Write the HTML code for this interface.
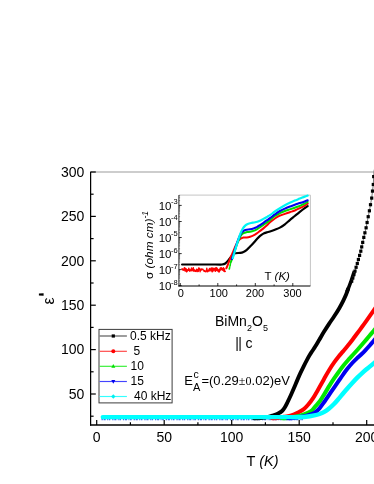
<!DOCTYPE html>
<html><head><meta charset="utf-8"><title>chart</title>
<style>
html,body{margin:0;padding:0;background:#fff;}
body{width:374px;height:484px;position:relative;overflow:hidden;font-family:"Liberation Sans",sans-serif;color:#000;}
.t{position:absolute;white-space:nowrap;line-height:1;}
#txt{position:absolute;left:0;top:0;width:374px;height:484px;will-change:transform;transform:translateZ(0);}
.yl{font-size:14px;width:40px;text-align:right;left:44.3px;}
.xl{font-size:14px;width:40px;text-align:center;}
.il{font-size:9.5px;}
.ser{font-family:"Liberation Serif",serif;}
</style></head><body>
<svg width="374" height="484" viewBox="0 0 374 484" style="position:absolute;left:0;top:0">
<line x1="91" y1="172.0" x2="374" y2="172.0" stroke="#bcbcbc" stroke-width="1.6"/>
<line x1="101.5" y1="418.5" x2="304" y2="418.5" stroke="#3a62f2" stroke-width="3.6" stroke-dasharray="1.3 0.8 2.1 1.4 0.9 0.7 1.6 1.9"/>
<path d="M254.00,418.20 C255.17,418.18 258.45,418.37 261.00,418.10 C263.55,417.83 267.25,417.05 269.30,416.60 C271.35,416.15 271.83,415.90 273.30,415.40 C274.77,414.90 276.63,414.33 278.10,413.60 C279.57,412.87 280.93,412.10 282.09,411.00 C283.25,409.90 284.09,408.62 285.06,407.00 C286.04,405.38 286.94,403.35 287.94,401.30 C288.94,399.25 289.99,397.00 291.04,394.70 C292.08,392.40 293.14,389.97 294.20,387.50 C295.26,385.03 296.33,382.37 297.40,379.90 C298.47,377.43 299.53,374.99 300.60,372.68 C301.67,370.36 302.73,368.17 303.80,366.02 C304.87,363.88 305.97,361.72 307.00,359.80 C308.03,357.88 309.09,356.03 310.00,354.52 C310.91,353.02 311.60,352.08 312.48,350.75 C313.35,349.42 314.09,348.39 315.23,346.55 C316.36,344.71 317.82,342.22 319.30,339.73 C320.78,337.23 322.48,334.25 324.10,331.60 C325.72,328.95 327.36,326.40 329.04,323.85 C330.72,321.30 332.53,318.85 334.21,316.27 C335.88,313.70 337.62,311.00 339.12,308.42 C340.61,305.85 342.02,303.15 343.20,300.80 C344.38,298.45 345.37,296.30 346.20,294.30 C347.03,292.30 347.87,289.72 348.20,288.80" fill="none" stroke="#000" stroke-width="3.9" stroke-linejoin="round" stroke-linecap="round" />
<polyline points="346.8,292.0 348.2,288.8 350.7,282.2 352.9,275.6 354.4,271.1" fill="none" stroke="#000" stroke-width="3.5"/>
<polyline points="354.4,271.1 351.7,281.2 352.8,278.0 353.9,274.6 355.0,271.1 356.1,267.3 357.3,263.5 358.4,259.5 359.6,255.4 360.8,251.2 361.7,246.9 362.7,242.4 363.8,237.4 364.9,232.8 366.1,227.8 367.1,222.5 368.2,216.7 369.4,210.8 370.5,204.7 371.7,198.1 372.5,191.1 373.3,184.5 373.7,176.6 374.2,170.0" fill="none" stroke="#555" stroke-width="0.8" stroke-linejoin="round" stroke-linecap="round" />
<path d="M272.00,418.20 C273.00,418.18 276.00,418.33 278.00,418.10 C280.00,417.87 281.78,417.25 284.00,416.80 C286.22,416.35 288.97,416.10 291.30,415.40 C293.63,414.70 295.95,413.60 297.98,412.60 C300.02,411.60 301.78,410.75 303.50,409.40 C305.22,408.05 306.70,406.38 308.30,404.50 C309.90,402.62 311.50,400.53 313.10,398.10 C314.70,395.67 316.42,392.50 317.93,389.90 C319.43,387.30 320.85,384.77 322.12,382.50 C323.40,380.23 324.32,378.47 325.55,376.30 C326.78,374.13 328.09,371.79 329.52,369.48 C330.96,367.16 332.66,364.57 334.19,362.42 C335.71,360.27 337.20,358.42 338.67,356.57 C340.15,354.73 341.56,353.15 343.06,351.35 C344.57,349.55 346.13,347.75 347.70,345.80 C349.27,343.85 350.90,341.76 352.50,339.68 C354.10,337.59 355.70,335.45 357.30,333.30 C358.90,331.15 360.53,328.94 362.10,326.77 C363.67,324.61 365.29,322.32 366.73,320.30 C368.16,318.28 369.55,316.31 370.73,314.65 C371.90,312.99 372.87,311.60 373.75,310.32 C374.63,309.05 375.62,307.55 376.00,307.00" fill="none" stroke="#f00" stroke-width="4.0" stroke-linejoin="round" stroke-linecap="round" />
<path d="M282.00,418.20 C283.00,418.18 286.00,418.33 288.00,418.10 C290.00,417.87 291.85,417.25 294.00,416.80 C296.15,416.35 298.51,416.10 300.90,415.40 C303.29,414.70 306.48,413.47 308.36,412.60 C310.24,411.73 311.06,411.22 312.20,410.20 C313.34,409.18 313.90,408.03 315.20,406.50 C316.50,404.97 318.40,403.19 320.00,401.00 C321.60,398.81 323.20,395.95 324.80,393.35 C326.40,390.75 328.01,387.94 329.62,385.38 C331.24,382.81 332.90,380.29 334.47,377.97 C336.04,375.66 337.57,373.52 339.05,371.48 C340.52,369.43 341.85,367.54 343.31,365.70 C344.76,363.86 346.22,362.19 347.75,360.45 C349.29,358.71 350.91,357.02 352.50,355.27 C354.09,353.53 355.70,351.76 357.30,349.98 C358.90,348.19 360.50,346.40 362.10,344.55 C363.70,342.70 365.42,340.68 366.93,338.90 C368.43,337.12 369.95,335.26 371.12,333.85 C372.30,332.44 373.14,331.43 373.95,330.45 C374.76,329.47 375.66,328.41 376.00,328.00" fill="none" stroke="#00e800" stroke-width="4.0" stroke-linejoin="round" stroke-linecap="round" />
<path d="M288.00,418.20 C289.00,418.18 292.00,418.33 294.00,418.10 C296.00,417.87 297.75,417.25 300.00,416.80 C302.25,416.35 305.07,416.10 307.52,415.40 C309.97,414.70 312.70,413.78 314.70,412.60 C316.70,411.42 317.85,410.15 319.50,408.30 C321.15,406.45 322.95,403.81 324.60,401.50 C326.25,399.19 327.81,396.78 329.43,394.43 C331.04,392.07 332.69,389.65 334.27,387.35 C335.85,385.05 337.39,382.79 338.89,380.62 C340.38,378.46 341.76,376.40 343.24,374.35 C344.71,372.30 346.20,370.28 347.75,368.35 C349.29,366.42 350.97,364.45 352.50,362.77 C354.03,361.10 355.50,359.67 356.90,358.32 C358.30,356.98 359.50,356.01 360.90,354.68 C362.30,353.34 363.82,351.88 365.32,350.30 C366.83,348.73 368.55,346.78 369.93,345.23 C371.30,343.67 372.54,342.15 373.55,340.95 C374.56,339.75 375.59,338.49 376.00,338.00" fill="none" stroke="#0000f0" stroke-width="4.0" stroke-linejoin="round" stroke-linecap="round" />
<line x1="102.8" y1="417.1" x2="300" y2="417.1" stroke="#00ffff" stroke-width="4.4" stroke-linecap="round"/>
<path d="M292.00,417.10 C293.17,417.09 296.67,417.10 299.00,417.05 C301.33,417.00 303.46,417.08 306.00,416.80 C308.54,416.52 311.98,415.87 314.23,415.40 C316.48,414.93 317.82,414.60 319.50,414.00 C321.18,413.40 322.70,412.72 324.30,411.80 C325.90,410.88 327.48,409.80 329.10,408.50 C330.72,407.20 332.38,405.65 334.00,404.00 C335.62,402.35 337.26,400.39 338.80,398.60 C340.34,396.81 341.76,395.02 343.26,393.25 C344.75,391.48 346.25,389.73 347.79,387.98 C349.33,386.22 350.92,384.45 352.50,382.73 C354.08,381.00 355.70,379.24 357.30,377.62 C358.90,376.01 360.40,374.55 362.10,373.02 C363.80,371.50 365.70,369.93 367.48,368.45 C369.25,366.97 371.30,365.28 372.73,364.12 C374.15,362.97 375.45,361.94 376.00,361.50" fill="none" stroke="#00ffff" stroke-width="4.4" stroke-linejoin="round" stroke-linecap="round" />
<rect x="372.1" y="175.0" width="3.2" height="3.2" fill="#000"/>
<rect x="371.7" y="182.9" width="3.2" height="3.2" fill="#000"/>
<rect x="370.9" y="189.5" width="3.2" height="3.2" fill="#000"/>
<rect x="370.1" y="196.5" width="3.2" height="3.2" fill="#000"/>
<rect x="368.9" y="203.1" width="3.2" height="3.2" fill="#000"/>
<rect x="367.8" y="209.2" width="3.2" height="3.2" fill="#000"/>
<rect x="366.6" y="215.1" width="3.2" height="3.2" fill="#000"/>
<rect x="365.5" y="220.9" width="3.2" height="3.2" fill="#000"/>
<rect x="364.5" y="226.2" width="3.2" height="3.2" fill="#000"/>
<rect x="363.3" y="231.2" width="3.2" height="3.2" fill="#000"/>
<rect x="362.2" y="235.8" width="3.2" height="3.2" fill="#000"/>
<rect x="361.1" y="240.8" width="3.2" height="3.2" fill="#000"/>
<rect x="360.1" y="245.3" width="3.2" height="3.2" fill="#000"/>
<rect x="359.2" y="249.6" width="3.2" height="3.2" fill="#000"/>
<rect x="358.0" y="253.8" width="3.2" height="3.2" fill="#000"/>
<rect x="356.8" y="257.9" width="3.2" height="3.2" fill="#000"/>
<rect x="355.7" y="261.9" width="3.2" height="3.2" fill="#000"/>
<rect x="354.5" y="265.7" width="3.2" height="3.2" fill="#000"/>
<rect x="353.4" y="269.5" width="3.2" height="3.2" fill="#000"/>
<rect x="352.3" y="273.0" width="3.2" height="3.2" fill="#000"/>
<rect x="351.2" y="276.4" width="3.2" height="3.2" fill="#000"/>
<rect x="350.1" y="279.6" width="3.2" height="3.2" fill="#000"/>
<line x1="90.6" y1="171.7" x2="90.6" y2="425.6" stroke="#000" stroke-width="1.25"/>
<line x1="90" y1="425" x2="374" y2="425" stroke="#000" stroke-width="1.3"/>
<line x1="90.6" y1="394.0" x2="95.8" y2="394.0" stroke="#000" stroke-width="1.2"/>
<line x1="90.6" y1="349.6" x2="95.8" y2="349.6" stroke="#000" stroke-width="1.2"/>
<line x1="90.6" y1="305.2" x2="95.8" y2="305.2" stroke="#000" stroke-width="1.2"/>
<line x1="90.6" y1="260.8" x2="95.8" y2="260.8" stroke="#000" stroke-width="1.2"/>
<line x1="90.6" y1="216.4" x2="95.8" y2="216.4" stroke="#000" stroke-width="1.2"/>
<line x1="90.6" y1="172.0" x2="95.8" y2="172.0" stroke="#000" stroke-width="1.2"/>
<line x1="90.6" y1="416.2" x2="93.6" y2="416.2" stroke="#000" stroke-width="1.2"/>
<line x1="90.6" y1="371.8" x2="93.6" y2="371.8" stroke="#000" stroke-width="1.2"/>
<line x1="90.6" y1="327.4" x2="93.6" y2="327.4" stroke="#000" stroke-width="1.2"/>
<line x1="90.6" y1="283.0" x2="93.6" y2="283.0" stroke="#000" stroke-width="1.2"/>
<line x1="90.6" y1="238.6" x2="93.6" y2="238.6" stroke="#000" stroke-width="1.2"/>
<line x1="90.6" y1="194.2" x2="93.6" y2="194.2" stroke="#000" stroke-width="1.2"/>
<line x1="96.7" y1="425" x2="96.7" y2="420" stroke="#000" stroke-width="1.2"/>
<line x1="164.2" y1="425" x2="164.2" y2="420" stroke="#000" stroke-width="1.2"/>
<line x1="231.7" y1="425" x2="231.7" y2="420" stroke="#000" stroke-width="1.2"/>
<line x1="299.2" y1="425" x2="299.2" y2="420" stroke="#000" stroke-width="1.2"/>
<line x1="366.7" y1="425" x2="366.7" y2="420" stroke="#000" stroke-width="1.2"/>
<line x1="130.4" y1="425" x2="130.4" y2="422.2" stroke="#000" stroke-width="1.2"/>
<line x1="197.9" y1="425" x2="197.9" y2="422.2" stroke="#000" stroke-width="1.2"/>
<line x1="265.4" y1="425" x2="265.4" y2="422.2" stroke="#000" stroke-width="1.2"/>
<line x1="333.0" y1="425" x2="333.0" y2="422.2" stroke="#000" stroke-width="1.2"/>
<rect x="178.9" y="195.1" width="131.5" height="90.9" fill="#fff" stroke="none"/>
<polyline points="178.9,195.1 310.4,195.1 310.4,286.0" fill="none" stroke="#c4c4c4" stroke-width="1"/>
<path d="M182.10,264.50 C187.58,264.50 208.35,264.50 215.00,264.50 C221.65,264.50 220.28,264.67 222.00,264.50 C223.72,264.33 224.20,264.27 225.30,263.50 C226.40,262.73 227.50,261.20 228.60,259.90 C229.70,258.60 230.80,256.80 231.90,255.70 C233.00,254.60 233.82,253.77 235.20,253.30 C236.58,252.83 238.82,253.13 240.20,252.90 C241.58,252.67 242.40,252.40 243.50,251.90 C244.60,251.40 245.70,250.78 246.80,249.90 C247.90,249.02 248.98,247.75 250.10,246.60 C251.22,245.45 252.38,244.23 253.50,243.00 C254.62,241.77 255.70,240.38 256.80,239.20 C257.90,238.02 259.00,236.83 260.10,235.90 C261.20,234.97 262.30,234.18 263.40,233.60 C264.50,233.02 265.60,232.75 266.70,232.40 C267.80,232.05 268.63,231.95 270.00,231.50 C271.37,231.05 273.25,230.35 274.90,229.70 C276.55,229.05 278.23,228.50 279.90,227.60 C281.57,226.70 283.25,225.55 284.90,224.30 C286.55,223.05 288.15,221.48 289.80,220.10 C291.45,218.72 293.13,217.37 294.80,216.00 C296.47,214.63 298.15,213.22 299.80,211.90 C301.45,210.58 303.38,209.07 304.70,208.10 C306.02,207.13 307.20,206.43 307.70,206.10" fill="none" stroke="#000" stroke-width="2.2" stroke-linejoin="round" stroke-linecap="round" />
<polyline points="182.1,268.6 182.5,269.9 183.0,269.2 183.4,270.1 183.9,270.2 184.3,267.9 184.8,267.7 185.2,271.1 185.7,268.7 186.1,268.6 186.6,271.8 187.0,269.6 187.5,271.1 187.9,269.6 188.4,270.3 188.8,268.2 189.3,270.3 189.7,271.2 190.2,269.8 190.6,270.7 191.1,270.4 191.5,267.9 192.0,270.8 192.4,270.1 192.9,268.9 193.3,267.7 193.8,271.2 194.2,269.6 194.7,270.6 195.1,271.3 195.6,270.6 196.0,271.5 196.5,269.3 196.9,271.0 197.4,269.5 197.8,271.5 198.3,271.3 198.7,268.0 199.2,268.2 199.6,268.5 200.1,271.7 200.5,269.4 201.0,270.2 201.4,268.9 201.9,269.7 202.3,269.2 202.8,269.1 203.2,270.1 203.7,270.1 204.1,271.4 204.6,270.5 205.0,271.5 205.5,271.2 205.9,271.8 206.4,270.4 206.8,268.3 207.3,271.2 207.7,271.7 208.2,271.4 208.6,270.0 209.1,270.6 209.5,268.5 210.0,271.1 210.4,270.0 210.9,268.8 211.3,267.9 211.8,271.2 212.2,271.8 212.7,268.0 213.1,271.0 213.6,269.3 214.0,268.2 214.5,268.8 214.9,270.8 215.4,271.3 215.8,267.8 216.3,270.2 216.7,267.8 217.2,270.6 217.6,269.0 218.1,271.3 218.5,271.7 219.0,269.7 219.4,271.8 219.9,268.9 220.3,267.9 220.8,270.1 221.2,267.7 221.7,268.4 222.1,269.3 222.6,270.2 223.0,268.3 223.5,267.8 223.9,271.2 224.4,268.9 224.8,271.6 225.3,271.4" fill="none" stroke="#f00" stroke-width="1.4" stroke-linejoin="round" stroke-linecap="round" />
<path d="M226.30,268.30 C226.55,267.72 227.13,266.48 227.80,264.80 C228.47,263.12 229.47,260.27 230.30,258.20 C231.13,256.13 231.98,254.33 232.80,252.40 C233.62,250.47 234.38,248.38 235.20,246.60 C236.02,244.82 236.87,242.98 237.70,241.70 C238.53,240.42 239.23,239.60 240.20,238.90 C241.17,238.20 242.40,237.75 243.50,237.50 C244.60,237.25 245.70,237.53 246.80,237.40 C247.90,237.27 248.98,237.03 250.10,236.70 C251.22,236.37 252.38,235.95 253.50,235.40 C254.62,234.85 255.70,234.15 256.80,233.40 C257.90,232.65 259.00,231.73 260.10,230.90 C261.20,230.07 262.30,229.28 263.40,228.40 C264.50,227.52 265.60,226.62 266.70,225.60 C267.80,224.58 268.63,223.48 270.00,222.30 C271.37,221.12 273.25,219.60 274.90,218.50 C276.55,217.40 278.23,216.47 279.90,215.70 C281.57,214.93 283.25,214.48 284.90,213.90 C286.55,213.32 288.15,212.77 289.80,212.20 C291.45,211.63 293.13,211.17 294.80,210.50 C296.47,209.83 298.15,209.02 299.80,208.20 C301.45,207.38 303.38,206.37 304.70,205.60 C306.02,204.83 307.20,203.93 307.70,203.60" fill="none" stroke="#f00" stroke-width="2.0" stroke-linejoin="round" stroke-linecap="round" />
<polyline points="229.3,269.0 230.9,262.0" fill="none" stroke="#00e000" stroke-width="1.6" stroke-linejoin="round" stroke-linecap="round" stroke-dasharray="1.6 1.4"/>
<path d="M231.10,261.50 C231.52,260.25 232.77,256.48 233.60,254.00 C234.43,251.52 235.27,248.93 236.10,246.60 C236.93,244.27 237.78,241.87 238.60,240.00 C239.42,238.13 240.18,236.55 241.00,235.40 C241.82,234.25 242.53,233.65 243.50,233.10 C244.47,232.55 245.70,232.33 246.80,232.10 C247.90,231.87 248.98,231.90 250.10,231.70 C251.22,231.50 252.38,231.30 253.50,230.90 C254.62,230.50 255.70,229.93 256.80,229.30 C257.90,228.67 259.00,227.85 260.10,227.10 C261.20,226.35 262.30,225.55 263.40,224.80 C264.50,224.05 265.60,223.38 266.70,222.60 C267.80,221.82 268.63,221.20 270.00,220.10 C271.37,219.00 273.25,217.15 274.90,216.00 C276.55,214.85 278.23,214.03 279.90,213.20 C281.57,212.37 283.25,211.63 284.90,211.00 C286.55,210.37 288.15,209.95 289.80,209.40 C291.45,208.85 293.13,208.28 294.80,207.70 C296.47,207.12 298.15,206.58 299.80,205.90 C301.45,205.22 303.38,204.27 304.70,203.60 C306.02,202.93 307.20,202.18 307.70,201.90" fill="none" stroke="#00dc00" stroke-width="2.0" stroke-linejoin="round" stroke-linecap="round" />
<path d="M231.90,259.10 C232.32,257.83 233.57,254.13 234.40,251.50 C235.23,248.87 236.07,245.77 236.90,243.30 C237.73,240.83 238.57,238.55 239.40,236.70 C240.23,234.85 241.07,233.25 241.90,232.20 C242.73,231.15 243.58,230.82 244.40,230.40 C245.22,229.98 245.85,229.88 246.80,229.70 C247.75,229.52 248.98,229.52 250.10,229.30 C251.22,229.08 252.38,228.77 253.50,228.40 C254.62,228.03 255.70,227.65 256.80,227.10 C257.90,226.55 259.00,225.82 260.10,225.10 C261.20,224.38 262.30,223.58 263.40,222.80 C264.50,222.02 265.60,221.17 266.70,220.40 C267.80,219.63 268.63,219.20 270.00,218.20 C271.37,217.20 273.25,215.60 274.90,214.40 C276.55,213.20 278.23,211.97 279.90,211.00 C281.57,210.03 283.25,209.33 284.90,208.60 C286.55,207.87 288.15,207.25 289.80,206.60 C291.45,205.95 293.13,205.28 294.80,204.70 C296.47,204.12 298.15,203.65 299.80,203.10 C301.45,202.55 303.38,201.87 304.70,201.40 C306.02,200.93 307.20,200.48 307.70,200.30" fill="none" stroke="#0000f0" stroke-width="2.1" stroke-linejoin="round" stroke-linecap="round" />
<path d="M232.80,258.20 C233.20,256.82 234.38,252.65 235.20,249.90 C236.02,247.15 236.87,244.32 237.70,241.70 C238.53,239.08 239.37,236.35 240.20,234.20 C241.03,232.05 241.87,230.23 242.70,228.80 C243.53,227.37 244.37,226.40 245.20,225.60 C246.03,224.80 246.73,224.43 247.70,224.00 C248.67,223.57 249.77,223.28 251.00,223.00 C252.23,222.72 253.72,222.63 255.10,222.30 C256.48,221.97 257.92,221.57 259.30,221.00 C260.68,220.43 262.03,219.63 263.40,218.90 C264.77,218.17 266.40,217.22 267.50,216.60 C268.60,215.98 268.77,216.05 270.00,215.20 C271.23,214.35 273.25,212.67 274.90,211.50 C276.55,210.33 278.23,209.25 279.90,208.20 C281.57,207.15 283.25,206.10 284.90,205.20 C286.55,204.30 288.15,203.57 289.80,202.80 C291.45,202.03 293.13,201.30 294.80,200.60 C296.47,199.90 298.15,199.27 299.80,198.60 C301.45,197.93 303.38,197.10 304.70,196.60 C306.02,196.10 307.20,195.77 307.70,195.60" fill="none" stroke="#00f4f4" stroke-width="2.2" stroke-linejoin="round" stroke-linecap="round" />
<line x1="178.9" y1="195.1" x2="178.9" y2="286.5" stroke="#000" stroke-width="0.85"/>
<line x1="178.4" y1="286.0" x2="310.4" y2="286.0" stroke="#000" stroke-width="1"/>
<line x1="178.9" y1="285.7" x2="181.7" y2="285.7" stroke="#000" stroke-width="0.8"/>
<line x1="178.9" y1="280.9" x2="180.1" y2="280.9" stroke="#000" stroke-width="0.4"/>
<line x1="178.9" y1="278.0" x2="180.1" y2="278.0" stroke="#000" stroke-width="0.4"/>
<line x1="178.9" y1="276.0" x2="180.1" y2="276.0" stroke="#000" stroke-width="0.4"/>
<line x1="178.9" y1="274.5" x2="180.1" y2="274.5" stroke="#000" stroke-width="0.4"/>
<line x1="178.9" y1="273.2" x2="180.1" y2="273.2" stroke="#000" stroke-width="0.4"/>
<line x1="178.9" y1="272.1" x2="180.1" y2="272.1" stroke="#000" stroke-width="0.4"/>
<line x1="178.9" y1="271.2" x2="180.1" y2="271.2" stroke="#000" stroke-width="0.4"/>
<line x1="178.9" y1="270.4" x2="180.1" y2="270.4" stroke="#000" stroke-width="0.4"/>
<line x1="178.9" y1="269.6" x2="181.7" y2="269.6" stroke="#000" stroke-width="0.8"/>
<line x1="178.9" y1="264.8" x2="180.1" y2="264.8" stroke="#000" stroke-width="0.4"/>
<line x1="178.9" y1="262.0" x2="180.1" y2="262.0" stroke="#000" stroke-width="0.4"/>
<line x1="178.9" y1="260.0" x2="180.1" y2="260.0" stroke="#000" stroke-width="0.4"/>
<line x1="178.9" y1="258.4" x2="180.1" y2="258.4" stroke="#000" stroke-width="0.4"/>
<line x1="178.9" y1="257.2" x2="180.1" y2="257.2" stroke="#000" stroke-width="0.4"/>
<line x1="178.9" y1="256.1" x2="180.1" y2="256.1" stroke="#000" stroke-width="0.4"/>
<line x1="178.9" y1="255.2" x2="180.1" y2="255.2" stroke="#000" stroke-width="0.4"/>
<line x1="178.9" y1="254.3" x2="180.1" y2="254.3" stroke="#000" stroke-width="0.4"/>
<line x1="178.9" y1="253.6" x2="181.7" y2="253.6" stroke="#000" stroke-width="0.8"/>
<line x1="178.9" y1="248.8" x2="180.1" y2="248.8" stroke="#000" stroke-width="0.4"/>
<line x1="178.9" y1="245.9" x2="180.1" y2="245.9" stroke="#000" stroke-width="0.4"/>
<line x1="178.9" y1="243.9" x2="180.1" y2="243.9" stroke="#000" stroke-width="0.4"/>
<line x1="178.9" y1="242.4" x2="180.1" y2="242.4" stroke="#000" stroke-width="0.4"/>
<line x1="178.9" y1="241.1" x2="180.1" y2="241.1" stroke="#000" stroke-width="0.4"/>
<line x1="178.9" y1="240.0" x2="180.1" y2="240.0" stroke="#000" stroke-width="0.4"/>
<line x1="178.9" y1="239.1" x2="180.1" y2="239.1" stroke="#000" stroke-width="0.4"/>
<line x1="178.9" y1="238.3" x2="180.1" y2="238.3" stroke="#000" stroke-width="0.4"/>
<line x1="178.9" y1="237.5" x2="181.7" y2="237.5" stroke="#000" stroke-width="0.8"/>
<line x1="178.9" y1="232.7" x2="180.1" y2="232.7" stroke="#000" stroke-width="0.4"/>
<line x1="178.9" y1="229.9" x2="180.1" y2="229.9" stroke="#000" stroke-width="0.4"/>
<line x1="178.9" y1="227.9" x2="180.1" y2="227.9" stroke="#000" stroke-width="0.4"/>
<line x1="178.9" y1="226.3" x2="180.1" y2="226.3" stroke="#000" stroke-width="0.4"/>
<line x1="178.9" y1="225.1" x2="180.1" y2="225.1" stroke="#000" stroke-width="0.4"/>
<line x1="178.9" y1="224.0" x2="180.1" y2="224.0" stroke="#000" stroke-width="0.4"/>
<line x1="178.9" y1="223.1" x2="180.1" y2="223.1" stroke="#000" stroke-width="0.4"/>
<line x1="178.9" y1="222.2" x2="180.1" y2="222.2" stroke="#000" stroke-width="0.4"/>
<line x1="178.9" y1="221.5" x2="181.7" y2="221.5" stroke="#000" stroke-width="0.8"/>
<line x1="178.9" y1="216.7" x2="180.1" y2="216.7" stroke="#000" stroke-width="0.4"/>
<line x1="178.9" y1="213.8" x2="180.1" y2="213.8" stroke="#000" stroke-width="0.4"/>
<line x1="178.9" y1="211.8" x2="180.1" y2="211.8" stroke="#000" stroke-width="0.4"/>
<line x1="178.9" y1="210.3" x2="180.1" y2="210.3" stroke="#000" stroke-width="0.4"/>
<line x1="178.9" y1="209.0" x2="180.1" y2="209.0" stroke="#000" stroke-width="0.4"/>
<line x1="178.9" y1="207.9" x2="180.1" y2="207.9" stroke="#000" stroke-width="0.4"/>
<line x1="178.9" y1="207.0" x2="180.1" y2="207.0" stroke="#000" stroke-width="0.4"/>
<line x1="178.9" y1="206.2" x2="180.1" y2="206.2" stroke="#000" stroke-width="0.4"/>
<line x1="178.9" y1="205.4" x2="181.7" y2="205.4" stroke="#000" stroke-width="0.8"/>
<line x1="178.9" y1="200.6" x2="180.1" y2="200.6" stroke="#000" stroke-width="0.4"/>
<line x1="178.9" y1="197.8" x2="180.1" y2="197.8" stroke="#000" stroke-width="0.4"/>
<line x1="178.9" y1="195.8" x2="180.1" y2="195.8" stroke="#000" stroke-width="0.4"/>
<line x1="180.3" y1="286.0" x2="180.3" y2="283.0" stroke="#000" stroke-width="0.8"/>
<line x1="217.8" y1="286.0" x2="217.8" y2="283.0" stroke="#000" stroke-width="0.8"/>
<line x1="255.3" y1="286.0" x2="255.3" y2="283.0" stroke="#000" stroke-width="0.8"/>
<line x1="292.8" y1="286.0" x2="292.8" y2="283.0" stroke="#000" stroke-width="0.8"/>
<line x1="199.1" y1="286.0" x2="199.1" y2="284.4" stroke="#000" stroke-width="0.8"/>
<line x1="236.6" y1="286.0" x2="236.6" y2="284.4" stroke="#000" stroke-width="0.8"/>
<line x1="274.1" y1="286.0" x2="274.1" y2="284.4" stroke="#000" stroke-width="0.8"/>
<path d="M38.9,293.5 L43.6,293.2 L43.6,295.8 L38.9,295.5 Z" fill="#000"/>
<rect x="99.0" y="329.4" width="73.1" height="73.5" fill="#fff" stroke="#3c3c3c" stroke-width="1"/>
<line x1="99.6" y1="336.0" x2="126.9" y2="336.0" stroke="#555" stroke-width="1.15"/>
<rect x="111.7" y="334.4" width="3.2" height="3.2" fill="#000"/>
<line x1="99.6" y1="351.3" x2="126.9" y2="351.3" stroke="#f44" stroke-width="1.15"/>
<circle cx="113.3" cy="351.3" r="2" fill="#f00"/>
<line x1="99.6" y1="366.3" x2="126.9" y2="366.3" stroke="#3e3" stroke-width="1.15"/>
<polygon points="113.3,364.1 111.3,367.8 115.3,367.8" fill="#00e000"/>
<line x1="99.6" y1="381.5" x2="126.9" y2="381.5" stroke="#44f" stroke-width="1.15"/>
<polygon points="113.3,383.7 111.3,380.0 115.3,380.0" fill="#0000f0"/>
<line x1="99.6" y1="396.5" x2="126.9" y2="396.5" stroke="#3ff" stroke-width="1.15"/>
<polygon points="113.3,394.3 115.5,396.5 113.3,398.7 111.1,396.5" fill="#00f0f0"/>
</svg>
<div id="txt">
<div class="t yl" style="top:386.7px">50</div>
<div class="t yl" style="top:342.3px">100</div>
<div class="t yl" style="top:297.9px">150</div>
<div class="t yl" style="top:253.5px">200</div>
<div class="t yl" style="top:209.1px">250</div>
<div class="t yl" style="top:164.7px">300</div>
<div class="t xl" style="left:76.7px;top:430px">0</div>
<div class="t xl" style="left:144.2px;top:430px">50</div>
<div class="t xl" style="left:211.7px;top:430px">100</div>
<div class="t xl" style="left:279.2px;top:430px">150</div>
<div class="t xl" style="left:346.7px;top:430px">200</div>
<div class="t" style="left:246.5px;top:453.5px;font-size:14.5px">T <i>(K)</i></div>
<div class="t" id="eps" style="left:40.8px;top:290.6px;font-size:16px;width:20px;height:20px;transform:rotate(-90deg);transform-origin:center;text-align:center">&epsilon;</div>
<div class="t" style="left:215px;top:313.5px;font-size:14px">BiMn<span style="font-size:9px;position:relative;top:5.3px">2</span>O<span style="font-size:9px;position:relative;top:5.3px;left:0.3px">5</span></div>
<div class="t" style="left:235.3px;top:336px;font-size:14px"><span style="letter-spacing:-0.7px">||</span><span style="margin-left:0.5px"> c</span></div>
<div class="t" style="left:184.3px;top:374.4px;font-size:13px;letter-spacing:0.03px">E<span style="display:inline-block;position:relative;width:8.4px;height:10px"><span style="position:absolute;left:0.6px;top:-6px;font-size:10.5px">c</span><span style="position:absolute;left:0px;top:6.2px;font-size:11px">A</span></span>=(0.29<span class="ser" style="font-size:12px;letter-spacing:0.1px;margin-left:0px">&plusmn;0</span>.02)eV</div>
<div class="t" style="left:130.1px;top:329.6px;font-size:12px">0.5 kHz</div>
<div class="t" style="left:133.6px;top:344.9px;font-size:12px">5</div>
<div class="t" style="left:130.6px;top:359.9px;font-size:12px">10</div>
<div class="t" style="left:130.6px;top:375.1px;font-size:12px">15</div>
<div class="t" style="left:134.0px;top:390.1px;font-size:12px">40 kHz</div>
<div class="t" style="left:140px;width:37.6px;text-align:right;top:281.2px;font-size:11.5px">10<span style="font-size:7.5px;position:relative;top:-5.6px;margin-left:-0.5px">-8</span></div>
<div class="t" style="left:140px;width:37.6px;text-align:right;top:265.1px;font-size:11.5px">10<span style="font-size:7.5px;position:relative;top:-5.6px;margin-left:-0.5px">-7</span></div>
<div class="t" style="left:140px;width:37.6px;text-align:right;top:249.1px;font-size:11.5px">10<span style="font-size:7.5px;position:relative;top:-5.6px;margin-left:-0.5px">-6</span></div>
<div class="t" style="left:140px;width:37.6px;text-align:right;top:233.0px;font-size:11.5px">10<span style="font-size:7.5px;position:relative;top:-5.6px;margin-left:-0.5px">-5</span></div>
<div class="t" style="left:140px;width:37.6px;text-align:right;top:217.0px;font-size:11.5px">10<span style="font-size:7.5px;position:relative;top:-5.6px;margin-left:-0.5px">-4</span></div>
<div class="t" style="left:140px;width:37.6px;text-align:right;top:200.9px;font-size:11.5px">10<span style="font-size:7.5px;position:relative;top:-5.6px;margin-left:-0.5px">-3</span></div>
<div class="t" style="left:165.8px;width:30px;text-align:center;top:288.2px;font-size:11px">0</div>
<div class="t" style="left:203.8px;width:30px;text-align:center;top:288.2px;font-size:11px">100</div>
<div class="t" style="left:240.0px;width:30px;text-align:center;top:288.2px;font-size:11px">200</div>
<div class="t" style="left:277.5px;width:30px;text-align:center;top:288.2px;font-size:11px">300</div>
<div class="t" style="left:264.6px;top:270.6px;font-size:11.5px">T <i>(K)</i></div>
<div class="t" id="sig" style="left:104.5px;top:238.5px;width:90px;height:12px;text-align:center;font-size:11.8px;transform:rotate(-90deg);transform-origin:center">&sigma; <i>(ohm cm)<span style="font-size:8.5px;position:relative;top:-4.6px">-1</span></i></div>
</div>
</body></html>
